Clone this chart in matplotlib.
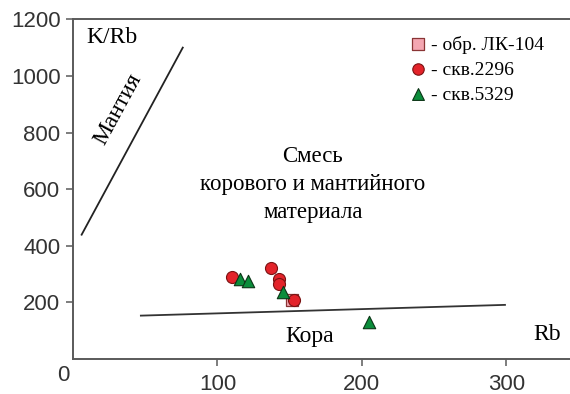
import numpy as np
import matplotlib
matplotlib.use("Agg")
import matplotlib.pyplot as plt

# --- data (Rb, K/Rb) ---
lk104_rb = [151.5]
lk104_krb = [209]

skv2296_rb = [110, 137, 142.5, 142.5, 153]
skv2296_krb = [288, 323, 283, 264, 209]

skv5329_rb = [115.5, 121, 145.5, 205]
skv5329_krb = [284, 274, 235, 130]

# boundary lines
mantle_rb = [6, 76]
mantle_krb = [439, 1100]
crust_rb = [47, 299]
crust_krb = [153, 191]

x_ticks = [100, 200, 300]
y_ticks = [200, 400, 600, 800, 1000, 1200]

serif = ['Liberation Serif', 'DejaVu Serif']
sans = ['Liberation Sans', 'DejaVu Sans']

fig = plt.figure(figsize=(5.7, 3.94), dpi=100)
ax = fig.add_axes([0.128, 0.089, 0.872, 0.862])
ax.set_xlim(0, 344)
ax.set_ylim(0, 1200)

# boundary lines
ax.plot(mantle_rb, mantle_krb, color='#222222', lw=1.3)
ax.plot(crust_rb, crust_krb, color='#333333', lw=1.3)

# samples
sq = ax.scatter(lk104_rb, lk104_krb, marker='s', s=70, facecolor='#f4a7b2',
                edgecolor='#8a3535', linewidth=0.9, zorder=3)
ci = ax.scatter(skv2296_rb, skv2296_krb, marker='o', s=75, facecolor='#e3232a',
                edgecolor='#7a1212', linewidth=0.8, zorder=4)
tr = ax.scatter(skv5329_rb, skv5329_krb, marker='^', s=80, facecolor='#0b8d3b',
                edgecolor='#0b3516', linewidth=0.8, zorder=5)

leg = ax.legend([sq, ci, tr], ['- обр. ЛК-104', '- скв.2296', '- скв.5329'],
                loc='upper left', bbox_to_anchor=(0.655, 0.975), frameon=False,
                prop={'family': serif, 'size': 14}, handletextpad=0.05,
                labelspacing=0.38, borderaxespad=0, handlelength=1.2,
                scatterpoints=1, markerscale=0.95)

# labels on the diagram
ax.text(9, 1136, 'K/Rb', family=serif, fontsize=17, va='center', ha='left')
ax.text(328, 85, 'Rb', family=serif, fontsize=17, va='center', ha='center')
ax.text(164, 79, 'Кора', family=serif, fontsize=17, va='center', ha='center')
ax.text(31, 881, 'Мантия', family=serif, fontsize=17, va='center', ha='center',
        rotation=61.5, rotation_mode='anchor')
ax.text(166, 616, 'Смесь\nкорового и мантийного\nматериала', family=serif,
        fontsize=16.5, va='center', ha='center', linespacing=1.45)

# axes styling
for side in ['left', 'top', 'bottom']:
    ax.spines[side].set_color('#5a5a5a')
    ax.spines[side].set_linewidth(1.4)
ax.spines['right'].set_visible(False)

ax.set_xticks(x_ticks)
ax.set_yticks(y_ticks)
ax.tick_params(axis='both', direction='out', length=5, width=1.1,
               color='#5a5a5a', labelcolor='#333333', labelsize=16)
ax.tick_params(axis='x', pad=6)
ax.tick_params(axis='y', pad=4)
for lab in ax.get_xticklabels() + ax.get_yticklabels():
    lab.set_family(sans)

# the single origin label
ax.annotate('0', xy=(0, 0), xytext=(-7, -12), textcoords='offset points',
            ha='center', va='center', fontsize=16, color='#333333', family=sans)

fig.savefig('out.png', dpi=100)
